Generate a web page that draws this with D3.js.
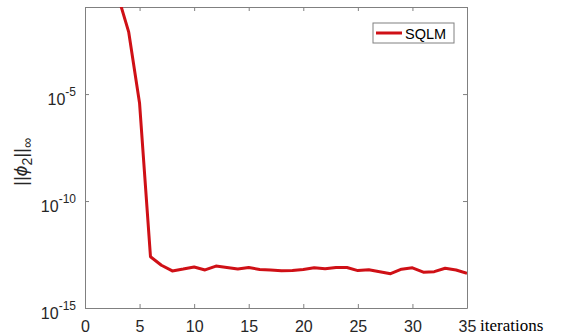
<!DOCTYPE html>
<html>
<head>
<meta charset="utf-8">
<script src="https://cdn.jsdelivr.net/npm/d3@7"></script>
<style>
  body { margin: 0; background: #fff; }
  svg { display: block; }
</style>
</head>
<body>
<script>
// data
const iterations = [1, 2, 3, 4, 5, 6, 7, 8, 9, 10, 11, 12, 13, 14, 15, 16, 17, 18,
  19, 20, 21, 22, 23, 24, 25, 26, 27, 28, 29, 30, 31, 32, 33, 34, 35];
const phiNorm = [3e0, 1.5e0, 4.2e-1, 8.1e-3, 3.7e-6, 2.5e-13, 1.0e-13, 5.4e-14, 6.6e-14,
  8.3e-14, 6.0e-14, 9.1e-14, 7.9e-14, 6.6e-14, 7.9e-14, 6.3e-14, 5.9e-14, 5.5e-14,
  5.6e-14, 6.3e-14, 7.6e-14, 6.8e-14, 7.9e-14, 7.8e-14, 5.6e-14, 6.2e-14, 5.0e-14,
  4.0e-14, 6.5e-14, 7.6e-14, 4.7e-14, 5.0e-14, 7.2e-14, 6.0e-14, 4.2e-14];
const xTicks = [0, 5, 10, 15, 20, 25, 30, 35];
const yTicks = [1e-15, 1e-10, 1e-5];
const seriesName = "SQLM";

const width = 568, height = 335;
const mLeft = 85, mRight = 467, mTop = 7, mBottom = 308;

const svg = d3.select("body").append("svg")
  .attr("width", width)
  .attr("height", height);

const x = d3.scaleLinear().domain([0, 35]).range([mLeft, mRight]);
const y = d3.scaleLog().domain([1e-15, Math.pow(10, -0.93)]).range([mBottom, mTop]);

const axisColor = "#808080";
const textColor = "#262626";
const font = "'Liberation Sans', Arial, sans-serif";

// clip for the line
svg.append("clipPath").attr("id", "clip")
  .append("rect")
  .attr("x", mLeft).attr("y", mTop)
  .attr("width", mRight - mLeft).attr("height", mBottom - mTop);

// bottom axis, ticks inside
const gx = svg.append("g")
  .attr("transform", `translate(0,${mBottom})`)
  .call(d3.axisBottom(x).tickValues(xTicks).tickSizeInner(-4).tickSizeOuter(0).tickPadding(13));
gx.select(".domain").attr("stroke", axisColor);
gx.selectAll(".tick line").attr("stroke", axisColor);
gx.selectAll(".tick text")
  .attr("fill", textColor)
  .style("font-family", font)
  .style("font-size", "16px");

// top ticks
const gxt = svg.append("g")
  .attr("transform", `translate(0,${mTop})`)
  .call(d3.axisTop(x).tickValues(xTicks).tickSizeInner(-4).tickSizeOuter(0).tickFormat(""));
gxt.select(".domain").attr("stroke", axisColor);
gxt.selectAll(".tick line").attr("stroke", axisColor);

// left axis with 10^n labels
const gy = svg.append("g")
  .attr("transform", `translate(${mLeft},0)`)
  .call(d3.axisLeft(y).tickValues(yTicks).tickSizeInner(-4).tickSizeOuter(0).tickFormat(""));
gy.select(".domain").attr("stroke", axisColor);
gy.selectAll(".tick line").attr("stroke", axisColor);
gy.selectAll(".tick").each(function (d) {
  const t = d3.select(this).append("text")
    .attr("x", -9)
    .attr("y", 10)
    .attr("text-anchor", "end")
    .attr("fill", textColor)
    .style("font-family", font)
    .style("font-size", "16px");
  t.append("tspan").text("10");
  t.append("tspan")
    .attr("dy", -9)
    .style("font-size", "12px")
    .text(Math.round(Math.log10(d)));
});

// right ticks
const gyr = svg.append("g")
  .attr("transform", `translate(${mRight},0)`)
  .call(d3.axisRight(y).tickValues(yTicks).tickSizeInner(-4).tickSizeOuter(0).tickFormat(""));
gyr.select(".domain").attr("stroke", axisColor);
gyr.selectAll(".tick line").attr("stroke", axisColor);

// the line
const line = d3.line()
  .x((d, i) => x(iterations[i]))
  .y(d => y(d));

svg.append("path")
  .datum(phiNorm)
  .attr("clip-path", "url(#clip)")
  .attr("fill", "none")
  .attr("stroke", "#cf1016")
  .attr("stroke-width", 3)
  .attr("stroke-linejoin", "round")
  .attr("d", line);

// legend
const lg = svg.append("g").attr("transform", "translate(373,23)");
lg.append("rect")
  .attr("width", 81).attr("height", 20)
  .attr("fill", "#fff")
  .attr("stroke", axisColor);
lg.append("line")
  .attr("x1", 3).attr("x2", 29)
  .attr("y1", 10).attr("y2", 10)
  .attr("stroke", "#cf1016")
  .attr("stroke-width", 3);
lg.append("text")
  .attr("x", 32).attr("y", 15.5)
  .attr("fill", "#000")
  .style("font-family", font)
  .style("font-size", "14.5px")
  .text(seriesName);

// y label
const yl = svg.append("text")
  .attr("transform", "translate(27,162) rotate(-90)")
  .attr("text-anchor", "middle")
  .attr("fill", textColor)
  .style("font-family", font)
  .style("font-size", "19px");
yl.append("tspan").text("||");
yl.append("tspan").style("font-style", "italic").text("ϕ");
yl.append("tspan").attr("dy", 5).style("font-size", "14px").text("2");
yl.append("tspan").attr("dy", -5).text("||");
yl.append("tspan").attr("dy", 5).style("font-size", "14px").text("∞");

// x label
svg.append("text")
  .attr("x", 480)
  .attr("y", 331)
  .attr("fill", "#000")
  .style("font-family", "'Liberation Serif', 'Times New Roman', serif")
  .style("font-size", "17px")
  .text("iterations");
</script>
</body>
</html>
